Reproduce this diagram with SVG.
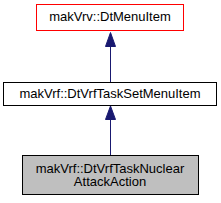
<svg xmlns="http://www.w3.org/2000/svg" width="221" height="203" viewBox="0 0 221 203">
<style>
.box{fill:#ffffff;stroke:#000000;stroke-width:1}
.t{font-family:"Liberation Sans",Arial,sans-serif;font-size:13px;fill:#000000;text-anchor:middle}
.edge{stroke:#191970;stroke-width:1;fill:none}
.head{fill:#191970;stroke:#191970}
</style>
<g id="edges">
<path class="edge" d="M110.5,82 V46"/>
<polygon class="head" points="110.5,32.5 105.5,46.5 115.5,46.5"/>
<path class="edge" d="M110.5,155 V119"/>
<polygon class="head" points="110.5,106 105.5,119.5 115.5,119.5"/>
</g>
<g id="node1">
<rect x="36.5" y="4.5" width="147" height="26" style="fill:#fff;stroke:#ff0000"/>
<text class="t" x="110" y="21">makVrv::DtMenuItem</text>
</g>
<g id="node2">
<rect class="box" x="3.5" y="82.5" width="213" height="23"/>
<text class="t" x="110" y="97.5">makVrf::DtVrfTaskSetMenuItem</text>
</g>
<g id="node3">
<rect class="box" x="22.5" y="155.5" width="176" height="39" style="fill:#bfbfbf"/>
<text class="t" x="110" y="173">makVrf::DtVrfTaskNuclear</text>
<text class="t" x="110" y="186">AttackAction</text>
</g>
</svg>
